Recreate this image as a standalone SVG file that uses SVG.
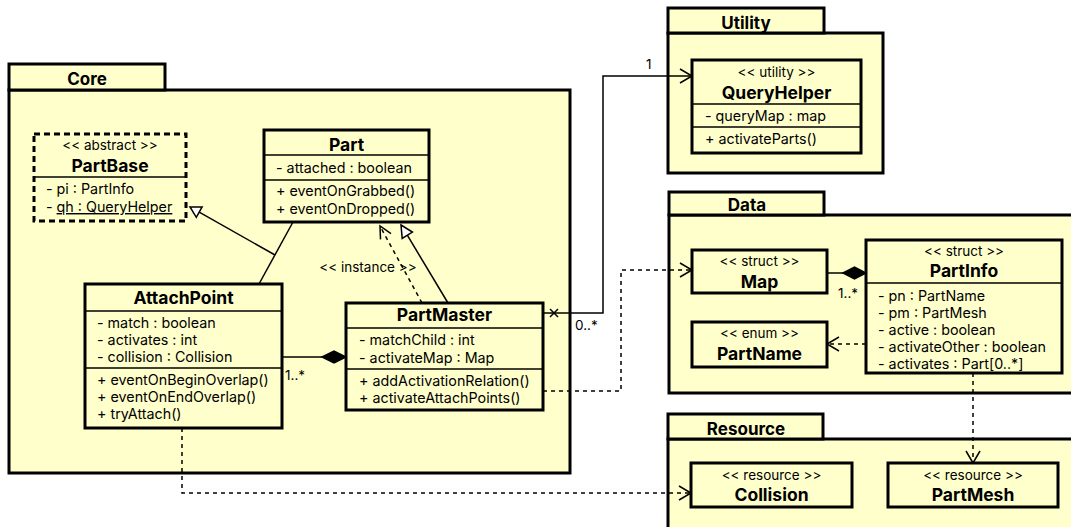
<svg xmlns="http://www.w3.org/2000/svg" width="1071" height="527" viewBox="0 0 1071 527">
<style>
.pkg{fill:#ffffcc;stroke:#000;stroke-width:3}
.cls{fill:#ffffcc;stroke:#000;stroke-width:3}
.sep{stroke:#000;stroke-width:1.3}
.t{font-family:Inter,"Liberation Sans",sans-serif;fill:#000}
.pn{font-size:17px;font-weight:bold;text-anchor:middle}
.cn{font-size:17.5px;font-weight:bold;text-anchor:middle}
.st{font-size:13.5px;text-anchor:middle}
.at{font-size:14.3px}
.lb{font-size:13.5px}
.ln{fill:none;stroke:#000;stroke-width:1.5}
.dl{fill:none;stroke:#000;stroke-width:1.5;stroke-dasharray:4 4}
.oa{fill:none;stroke:#000;stroke-width:1.5}
.tri{fill:#fff;stroke:#000;stroke-width:1.5}
.dia{fill:#000;stroke:#000;stroke-width:1.5}
</style>
<rect width="1071" height="527" fill="#fff"/>
<g id="pkg-core">
<rect class="pkg" x="9" y="90" width="561" height="383"/>
<rect class="pkg" x="9" y="64" width="156" height="26"/>
<text class="t pn" x="87" y="85">Core</text>
</g>
<g id="pkg-utility">
<rect class="pkg" x="668" y="33" width="215" height="140"/>
<rect class="pkg" x="668" y="8" width="156" height="25"/>
<text class="t pn" x="746" y="29">Utility</text>
</g>
<g id="pkg-data">
<rect class="pkg" x="669" y="215" width="420" height="178"/>
<rect class="pkg" x="669" y="192" width="155" height="23"/>
<text class="t pn" x="747" y="211">Data</text>
</g>
<g id="pkg-resource">
<rect class="pkg" x="668" y="439" width="420" height="100"/>
<rect class="pkg" x="668" y="414" width="155" height="25"/>
<text class="t pn" x="746" y="435">Resource</text>
</g>
<g id="connectors">
<line class="ln" x1="293" y1="222" x2="259" y2="284"/>
<line class="ln" x1="275" y1="255" x2="199.2" y2="212.1"/>
<polygon class="tri" points="190,207 202.1,206.9 196.3,217.3"/>
<line class="ln" x1="448" y1="303" x2="407.3" y2="235.2"/>
<polygon class="tri" points="401,225 412.4,232.1 402.2,238.4"/>
<line class="dl" x1="422" y1="303" x2="380" y2="226"/>
<polyline class="oa" points="391,233.7 380,226 380.5,239.4"/>
<text class="t lb" x="368" y="272" text-anchor="middle">&lt;&lt; instance &gt;&gt;</text>
<line class="ln" x1="282" y1="357" x2="322" y2="357"/>
<polygon class="dia" points="322,357 334,351 346,357 334,363"/>
<text class="t lb" x="285" y="380">1..*</text>
<polyline class="ln" points="543,313 603,313 603,76 692,76"/>
<polyline class="oa" points="680,69 692,76 680,83"/>
<path class="ln" d="M550,309 L558,317 M550,317 L558,309"/>
<text class="t lb" x="646" y="69">1</text>
<text class="t lb" x="575" y="330">0..*</text>
<polyline class="dl" points="543,391 621,391 621,270 692,270"/>
<polyline class="oa" points="680,263 692,270 680,277"/>
<line class="ln" x1="827" y1="273" x2="843" y2="273"/>
<polygon class="dia" points="843,273 854.5,267 866,273 854.5,279"/>
<text class="t lb" x="838" y="298">1..*</text>
<line class="dl" x1="866" y1="344" x2="828" y2="344"/>
<polyline class="oa" points="839,337 827,344 839,351"/>
<line class="dl" x1="973" y1="373" x2="973" y2="462"/>
<polyline class="oa" points="966,451 973,463 980,451"/>
<polyline class="dl" points="182,428 182,493 690,493"/>
<polyline class="oa" points="679,486 691,493 679,500"/>
</g>
<g id="PartBase">
<rect class="cls" x="34" y="134" width="152" height="87" stroke-dasharray="6 4"/>
<line class="sep" x1="34" y1="177" x2="186" y2="177" stroke-width="2"/>
<text class="t st" x="110" y="150">&lt;&lt; abstract &gt;&gt;</text>
<text class="t cn" x="110" y="172">PartBase</text>
<text class="t at" x="46" y="194">- pi : PartInfo</text>
<text class="t at" x="46" y="212">- <tspan text-decoration="underline">qh : QueryHelper</tspan></text>
</g>
<g id="Part">
<rect class="cls" x="264" y="130" width="165" height="92"/>
<line class="sep" x1="264" y1="155" x2="429" y2="155"/>
<line class="sep" x1="264" y1="180" x2="429" y2="180"/>
<text class="t cn" x="346.5" y="151">Part</text>
<text class="t at" x="276" y="173">- attached : boolean</text>
<text class="t at" x="276" y="196">+ eventOnGrabbed()</text>
<text class="t at" x="276" y="214">+ eventOnDropped()</text>
</g>
<g id="AttachPoint">
<rect class="cls" x="85" y="284" width="197" height="144"/>
<line class="sep" x1="85" y1="311" x2="282" y2="311"/>
<line class="sep" x1="85" y1="368" x2="282" y2="368"/>
<text class="t cn" x="183.5" y="304">AttachPoint</text>
<text class="t at" x="97" y="328">- match : boolean</text>
<text class="t at" x="97" y="345">- activates : int</text>
<text class="t at" x="97" y="362">- collision : Collision</text>
<text class="t at" x="97" y="385">+ eventOnBeginOverlap()</text>
<text class="t at" x="97" y="402">+ eventOnEndOverlap()</text>
<text class="t at" x="97" y="419">+ tryAttach()</text>
</g>
<g id="PartMaster">
<rect class="cls" x="346" y="303" width="197" height="107"/>
<line class="sep" x1="346" y1="328" x2="543" y2="328"/>
<line class="sep" x1="346" y1="369" x2="543" y2="369"/>
<text class="t cn" x="444.5" y="321">PartMaster</text>
<text class="t at" x="359" y="345">- matchChild : int</text>
<text class="t at" x="359" y="363">- activateMap : Map</text>
<text class="t at" x="359" y="386">+ addActivationRelation()</text>
<text class="t at" x="359" y="403">+ activateAttachPoints()</text>
</g>
<g id="QueryHelper">
<rect class="cls" x="692" y="60" width="169" height="93"/>
<line class="sep" x1="692" y1="104" x2="861" y2="104"/>
<line class="sep" x1="692" y1="127" x2="861" y2="127"/>
<text class="t st" x="776.5" y="77">&lt;&lt; utility &gt;&gt;</text>
<text class="t cn" x="776.5" y="99">QueryHelper</text>
<text class="t at" x="705" y="121">- queryMap : map</text>
<text class="t at" x="705" y="144">+ activateParts()</text>
</g>
<g id="Map">
<rect class="cls" x="692" y="250" width="135" height="43"/>
<text class="t st" x="759.5" y="266">&lt;&lt; struct &gt;&gt;</text>
<text class="t cn" x="759.5" y="288">Map</text>
</g>
<g id="PartInfo">
<rect class="cls" x="866" y="240" width="196" height="133"/>
<line class="sep" x1="866" y1="283" x2="1062" y2="283"/>
<text class="t st" x="964" y="256">&lt;&lt; struct &gt;&gt;</text>
<text class="t cn" x="964" y="277">PartInfo</text>
<text class="t at" x="878" y="301">- pn : PartName</text>
<text class="t at" x="878" y="318">- pm : PartMesh</text>
<text class="t at" x="878" y="335">- active : boolean</text>
<text class="t at" x="878" y="352">- activateOther : boolean</text>
<text class="t at" x="878" y="369">- activates : Part[0..*]</text>
</g>
<g id="PartName">
<rect class="cls" x="692" y="322" width="135" height="45"/>
<text class="t st" x="759.5" y="338">&lt;&lt; enum &gt;&gt;</text>
<text class="t cn" x="759.5" y="360">PartName</text>
</g>
<g id="Collision">
<rect class="cls" x="691" y="463" width="161" height="44"/>
<text class="t st" x="771.5" y="480">&lt;&lt; resource &gt;&gt;</text>
<text class="t cn" x="771.5" y="501">Collision</text>
</g>
<g id="PartMesh">
<rect class="cls" x="888" y="463" width="170" height="44"/>
<text class="t st" x="973" y="480">&lt;&lt; resource &gt;&gt;</text>
<text class="t cn" x="973" y="501">PartMesh</text>
</g>
</svg>
